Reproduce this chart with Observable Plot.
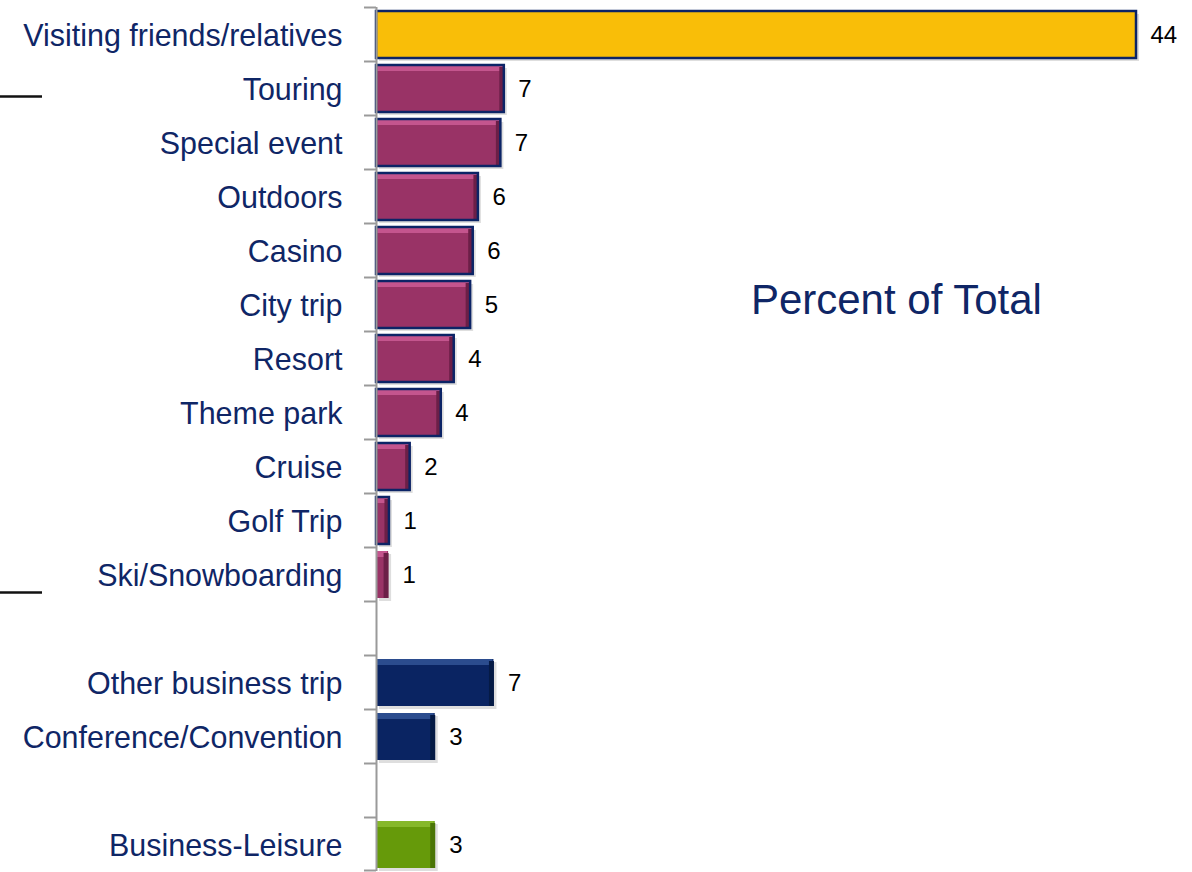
<!DOCTYPE html>
<html>
<head>
<meta charset="utf-8">
<script src="https://cdn.jsdelivr.net/npm/d3@7"></script>
<script src="https://cdn.jsdelivr.net/npm/@observablehq/plot@0.6"></script>
<style>
  html, body { margin: 0; padding: 0; background: #fff; }
  #chart svg { display: block; }
</style>
</head>
<body>
<div id="chart"></div>
<script>
// ---- data ----
const categories = [
  "Visiting friends/relatives", "Touring", "Special event", "Outdoors", "Casino",
  "City trip", "Resort", "Theme park", "Cruise", "Golf Trip", "Ski/Snowboarding",
  "Other business trip", "Conference/Convention", "Business-Leisure"
];
const values = [44, 7.4, 7.2, 5.9, 5.6, 5.45, 4.5, 3.75, 1.95, 0.75, 0.7, 6.8, 3.4, 3.4];
const valueLabels = ["44", "7", "7", "6", "6", "5", "4", "4", "2", "1", "1", "7", "3", "3"];
const groups = ["vfr", "leisure", "leisure", "leisure", "leisure", "leisure", "leisure",
  "leisure", "leisure", "leisure", "leisure", "business", "business", "bizleisure"];
const bordered = [true, true, true, true, true, true, true, true, true, true, false, false, false, false];
// row order, including the two empty spacer rows
const rows = [
  "Visiting friends/relatives", "Touring", "Special event", "Outdoors", "Casino",
  "City trip", "Resort", "Theme park", "Cruise", "Golf Trip", "Ski/Snowboarding",
  "gap-1", "Other business trip", "Conference/Convention", "gap-2", "Business-Leisure"
];
const annotation = [{text: "Percent of Total", x: 30.1, row: "City trip"}];

const palette = {
  vfr:        {fill: "#F9BE08", light: "#F9BE08", dark: "#F9BE08"},
  leisure:    {fill: "#993366", light: "#C4558E", dark: "#6B1F47"},
  business:   {fill: "#0A2462", light: "#2B4C8E", dark: "#051A45"},
  bizleisure: {fill: "#669A0A", light: "#86B82A", dark: "#4A7506"}
};
const border = "#0C2466";
const textNavy = "#0F2666";
const sans = "'Liberation Sans', Arial, Helvetica, sans-serif";

const data = categories.map((c, i) => ({
  cat: c, value: values[i], label: valueLabels[i], group: groups[i], bordered: bordered[i]
}));

const W = 1192, H = 872;
const step = (H - 7 - 1) / rows.length; // band step in px

const chart = Plot.plot({
  width: W,
  height: H,
  marginLeft: 376,
  marginRight: 56,
  marginTop: 7,
  marginBottom: 1,
  style: {background: "#fff", fontFamily: sans},
  x: {domain: [0, 44], axis: null},
  y: {domain: rows, padding: 0, axis: null},
  marks: [
    // shadow
    Plot.barX(data, {x: "value", y: "cat", fill: "#000", fillOpacity: 0.13, insetTop: 4, insetBottom: 3, dx: 3, dy: 3}),
    // bar body
    Plot.barX(data, {x: "value", y: "cat", fill: d => palette[d.group].fill, insetTop: 4, insetBottom: 3}),
    // top bevel highlight
    Plot.barX(data.filter(d => d.group !== "vfr"), {x: "value", y: "cat", fill: d => palette[d.group].light, insetTop: 4, insetBottom: step - 10, insetLeft: 1, insetRight: 1}),
    // right bevel shade
    Plot.tickX(data.filter(d => d.group !== "vfr"), {x: "value", y: "cat", stroke: d => palette[d.group].dark, strokeWidth: 5, dx: -2.5, insetTop: 6, insetBottom: 3}),
    // navy border
    Plot.barX(data.filter(d => d.bordered), {x: "value", y: "cat", fill: "none", stroke: border, strokeWidth: 2.5, insetTop: 4, insetBottom: 3}),
    // axis line
    Plot.ruleX([0], {stroke: "#9A9A9A", strokeWidth: 2}),
    // ticks at band boundaries
    Plot.ruleY(rows, {y: d => d, x1: 0, x2: 0, insetLeft: -12, dy: -step / 2, stroke: "#9A9A9A", strokeWidth: 2}),
    Plot.ruleY([rows[rows.length - 1]], {y: d => d, x1: 0, x2: 0, insetLeft: -12, dy: step / 2 - 1, stroke: "#9A9A9A", strokeWidth: 2}),
    // stray bracket lines at the far left
    Plot.ruleY(["Touring"], {y: d => d, x1: 0, x2: 0, insetLeft: -376, insetRight: 334, dy: 8, stroke: "#111", strokeWidth: 2.5}),
    Plot.ruleY(["Ski/Snowboarding"], {y: d => d, x1: 0, x2: 0, insetLeft: -376, insetRight: 334, dy: 18, stroke: "#111", strokeWidth: 2.5}),
    // category labels (condensed below)
    Plot.text(categories, {
      x: 0, y: d => d, text: d => d, textAnchor: "end", dx: -34, dy: 1,
      fontSize: 32, fill: textNavy, fontFamily: sans, className: "catlabel"
    }),
    // value labels
    Plot.text(data, {x: "value", y: "cat", text: "label", textAnchor: "start", dx: 14, dy: 1, fontSize: 24, fill: "#000", fontFamily: sans}),
    // annotation
    Plot.text(annotation, {x: "x", y: "row", text: "text", dy: -4, fontSize: 42, fill: textNavy, fontFamily: sans})
  ]
});

document.getElementById("chart").appendChild(chart);

// Narrow the category labels (the original uses a condensed face)
const labels = d3.select(chart).selectAll("g.catlabel text");
let widest = 0;
labels.each(function() { widest = Math.max(widest, this.getComputedTextLength()); });
const sx = widest > 0 ? Math.min(1, 320 / widest) : 1;
labels.each(function() {
  const el = d3.select(this);
  const t = el.attr("transform") || "";
  el.attr("transform", `${t} scale(${sx},1)`);
});
</script>
</body>
</html>
